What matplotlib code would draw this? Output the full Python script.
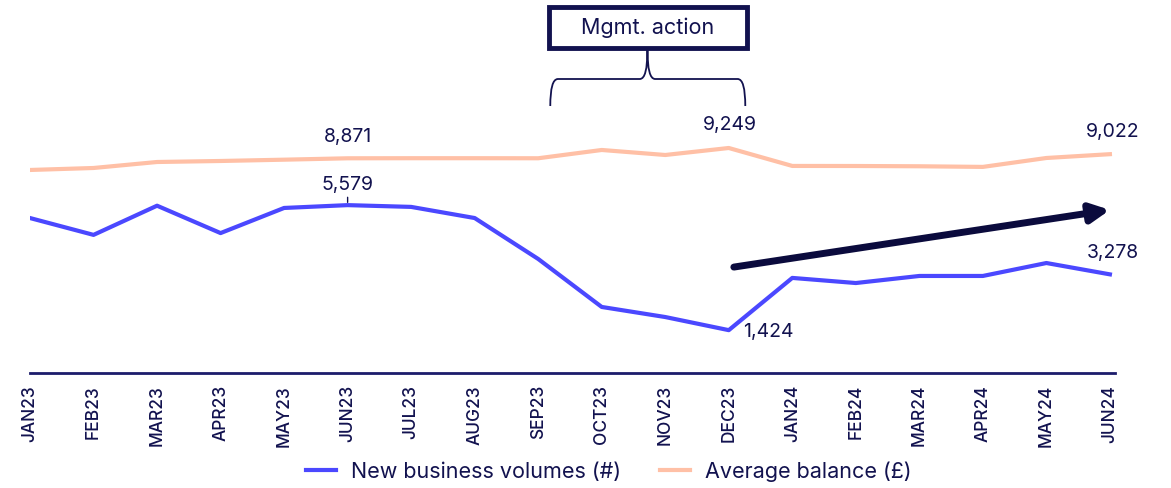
import matplotlib
matplotlib.use('Agg')
import matplotlib.pyplot as plt
from matplotlib.path import Path
from matplotlib.patches import PathPatch, Rectangle
from matplotlib.transforms import blended_transform_factory

# --- Data ---
months = ["JAN23", "FEB23", "MAR23", "APR23", "MAY23", "JUN23", "JUL23", "AUG23",
          "SEP23", "OCT23", "NOV23", "DEC23", "JAN24", "FEB24", "MAR24", "APR24",
          "MAY24", "JUN24"]
new_business = [5150, 4590, 5560, 4650, 5485, 5579, 5520, 5150,
                3790, 2195, 1860, 1424, 3160, 2990, 3225, 3225,
                3655, 3278]
avg_balance = [8442, 8515, 8735, 8772, 8820, 8871, 8874, 8874,
               8872, 9176, 8992, 9249, 8590, 8588, 8578, 8555,
               8882, 9022]

# --- Style ---
COLOR_BLUE = "#4B48FF"
COLOR_PEACH = "#FFC0A6"
COLOR_NAVY = "#12124F"
COLOR_AXIS = "#1C1C6B"
COLOR_ARROW = "#0B0B3D"
FONT = "Inter"

plt.rcParams['font.family'] = [FONT, 'DejaVu Sans']

fig = plt.figure(figsize=(11.71, 4.89), dpi=100, facecolor='white')
ax = fig.add_axes([30 / 1171, 1 - 374 / 489, 1085 / 1171, 334 / 489])
ax2 = ax.twinx()  # average balance sits on its own scale

x = list(range(len(months)))
ax.plot(x, new_business, color=COLOR_BLUE, lw=3, label="New business volumes (#)", zorder=3)
ax2.plot(x, avg_balance, color=COLOR_PEACH, lw=3, label="Average balance (£)", zorder=3)

ax.set_xlim(0, 17.08)
ax.set_ylim(0, 11100)
ax2.set_ylim(991, 13249)

for a in (ax, ax2):
    for s in ("top", "right", "left"):
        a.spines[s].set_visible(False)
    a.set_yticks([])
ax2.spines["bottom"].set_visible(False)
ax.spines["bottom"].set_color(COLOR_AXIS)
ax.spines["bottom"].set_linewidth(2)

ax.set_xticks(x)
ax.set_xticklabels(months, rotation=90, fontsize=12.5, color=COLOR_NAVY, fontweight='medium')
ax.tick_params(axis='x', length=0, pad=8)

# --- Value labels ---
lab = dict(color=COLOR_NAVY, fontsize=14, textcoords='offset pixels', va='center', ha='center')
ax2.annotate("8,871", xy=(5, avg_balance[5]), xytext=(0, 22), **lab)
ax2.annotate("9,249", xy=(11, avg_balance[11]), xytext=(1, 24), **lab)
ax2.annotate("9,022", xy=(17, avg_balance[17]), xytext=(3, 23), **lab)
ax.annotate("5,579", xy=(5, new_business[5]), xytext=(0, 21), **lab,
            arrowprops=dict(arrowstyle='-', color=COLOR_NAVY, lw=1, shrinkA=1, shrinkB=2))
ax.annotate("3,278", xy=(17, new_business[17]), xytext=(3, 22), **lab)
lab_left = dict(lab, ha='left')
ax.annotate("1,424", xy=(11, new_business[11]), xytext=(14, -1), **lab_left)

# --- Trend arrow ---
ax.annotate("", xy=(17.0, 5420), xytext=(11.08, 3520),
            arrowprops=dict(arrowstyle='-|>', lw=5, color=COLOR_ARROW,
                            mutation_scale=28, shrinkA=0, shrinkB=0))

# --- Mgmt. action bracket and box (x in months, y in figure fraction) ---
tr = blended_transform_factory(ax.transData, fig.transFigure)
def fy(px):
    return 1 - px / 489

xl, xr, xc = 8.19, 11.26, 9.72
yh, ye, yt = fy(80), fy(107), fy(51)
d = 0.12
verts = [(xl, ye), (xl, yh), (xl + d, yh),
         (xc - d, yh), (xc, yh), (xc, yt),
         (xc, yt), (xc, yh), (xc + d, yh),
         (xr - d, yh), (xr, yh), (xr, ye)]
codes = [Path.MOVETO, Path.CURVE3, Path.CURVE3,
         Path.LINETO, Path.CURVE3, Path.CURVE3,
         Path.MOVETO, Path.CURVE3, Path.CURVE3,
         Path.LINETO, Path.CURVE3, Path.CURVE3]
fig.add_artist(PathPatch(Path(verts, codes), transform=tr, fill=False,
                         edgecolor=COLOR_NAVY, lw=1.3))
fig.add_artist(Rectangle((8.17, fy(49)), 11.28 - 8.17, fy(8) - fy(49), transform=tr,
                         fill=False, edgecolor=COLOR_NAVY, lw=3.5))
fig.text(9.72, fy(28), "Mgmt. action", transform=tr, ha='center', va='center',
         fontsize=15.5, color=COLOR_NAVY)

# --- Legend ---
h1, l1 = ax.get_legend_handles_labels()
h2, l2 = ax2.get_legend_handles_labels()
fig.legend(h1 + h2, l1 + l2, loc='center', bbox_to_anchor=(0.52, 1 - 472 / 489),
           ncol=2, frameon=False, fontsize=15.5, labelcolor=COLOR_NAVY,
           handlelength=1.4, columnspacing=1.8, handletextpad=0.7)

fig.savefig("out.png", dpi=100, facecolor='white')
